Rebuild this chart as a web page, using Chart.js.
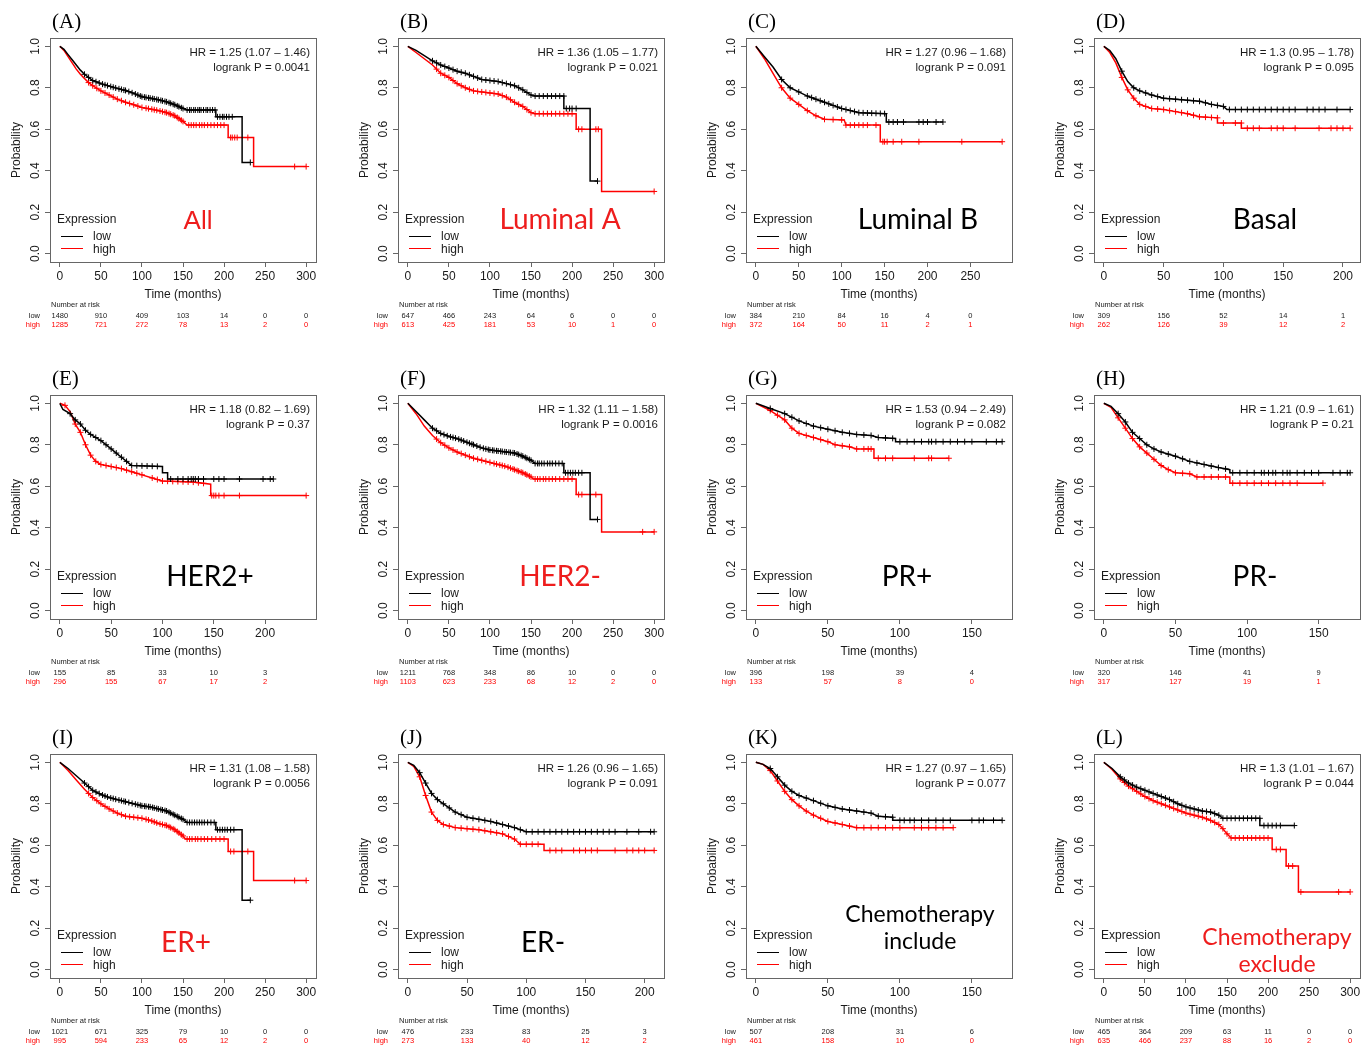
<!DOCTYPE html>
<html>
<head>
<meta charset="utf-8">
<script src="https://cdn.jsdelivr.net/npm/chart.js@4.4.0/dist/chart.umd.min.js"></script>
<style>
  body { margin: 0; background: #fff; width: 1371px; height: 1046px; overflow: hidden; position: relative; }
  canvas { position: absolute; }
</style>
</head>
<body>
<script>
const panelIds = ['A', 'B', 'C', 'D', 'E', 'F', 'G', 'H', 'I', 'J', 'K', 'L'];
const subgroups = [['All'], ['Luminal A'], ['Luminal B'], ['Basal'], ['HER2+'], ['HER2-'], ['PR+'], ['PR-'], ['ER+'], ['ER-'], ['Chemotherapy', 'include'], ['Chemotherapy', 'exclude']];
const subgroupRed = [true, true, false, false, false, true, false, false, true, false, false, true];
const hrLabels = ['HR = 1.25 (1.07 – 1.46)', 'HR = 1.36 (1.05 – 1.77)', 'HR = 1.27 (0.96 – 1.68)', 'HR = 1.3 (0.95 – 1.78)',
  'HR = 1.18 (0.82 – 1.69)', 'HR = 1.32 (1.11 – 1.58)', 'HR = 1.53 (0.94 – 2.49)', 'HR = 1.21 (0.9 – 1.61)',
  'HR = 1.31 (1.08 – 1.58)', 'HR = 1.26 (0.96 – 1.65)', 'HR = 1.27 (0.97 – 1.65)', 'HR = 1.3 (1.01 – 1.67)'];
const pLabels = ['logrank P = 0.0041', 'logrank P = 0.021', 'logrank P = 0.091', 'logrank P = 0.095',
  'logrank P = 0.37', 'logrank P = 0.0016', 'logrank P = 0.082', 'logrank P = 0.21',
  'logrank P = 0.0056', 'logrank P = 0.091', 'logrank P = 0.077', 'logrank P = 0.044'];
const timeMax = [300, 300, 287, 206, 240, 300, 171, 172, 300, 208, 171, 300];
const riskTimes = [0, 50, 100, 150, 200, 250, 300];
const riskLow = [[1480, 910, 409, 103, 14, 0, 0], [647, 466, 243, 64, 6, 0, 0], [384, 210, 84, 16, 4, 0], [309, 156, 52, 14, 1],
  [155, 85, 33, 10, 3], [1211, 768, 348, 86, 10, 0, 0], [396, 198, 39, 4], [320, 146, 41, 9],
  [1021, 671, 325, 79, 10, 0, 0], [476, 233, 83, 25, 3], [507, 208, 31, 6], [465, 364, 209, 63, 11, 0, 0]];
const riskHigh = [[1285, 721, 272, 78, 13, 2, 0], [613, 425, 181, 53, 10, 1, 0], [372, 164, 50, 11, 2, 1], [262, 126, 39, 12, 2],
  [296, 155, 67, 17, 2], [1103, 623, 233, 68, 12, 2, 0], [133, 57, 8, 0], [317, 127, 19, 1],
  [995, 594, 233, 65, 12, 2, 0], [273, 133, 40, 12, 2], [461, 158, 10, 0], [635, 466, 237, 88, 16, 2, 0]];

// survival curves [months, probability]; repeated month = vertical drop
const lowA = [[0,1],[5,0.985],[10,0.96],[15,0.935],[20,0.91],[25,0.885],[30,0.865],[35,0.85],[40,0.835],[50,0.82],[60,0.808],[70,0.797],[80,0.787],[90,0.773],[100,0.757],[110,0.75],[120,0.742],[130,0.732],[140,0.718],[150,0.7],[155,0.693],[190,0.693],[190,0.66],[222,0.66],[222,0.44],[232,0.44]];
const highA = [[0,1],[5,0.98],[10,0.95],[15,0.92],[20,0.89],[25,0.865],[30,0.845],[35,0.825],[40,0.81],[50,0.785],[60,0.765],[70,0.745],[80,0.73],[90,0.718],[100,0.705],[110,0.698],[120,0.69],[130,0.68],[140,0.665],[150,0.638],[155,0.62],[205,0.62],[205,0.56],[236,0.56],[236,0.42],[300,0.42]];
const lowB = [[0,1],[10,0.98],[20,0.955],[30,0.93],[40,0.91],[50,0.895],[60,0.88],[70,0.87],[80,0.855],[90,0.84],[100,0.835],[110,0.83],[120,0.82],[130,0.81],[140,0.79],[150,0.765],[155,0.76],[190,0.76],[190,0.7],[222,0.7],[222,0.35],[231,0.35]];
const highB = [[0,1],[10,0.97],[20,0.94],[30,0.91],[40,0.87],[50,0.85],[60,0.82],[70,0.8],[80,0.785],[90,0.78],[110,0.77],[120,0.755],[130,0.73],[140,0.71],[150,0.68],[155,0.675],[205,0.675],[205,0.6],[236,0.6],[236,0.3],[300,0.3]];
const lowC = [[0,1],[10,0.95],[20,0.9],[30,0.84],[40,0.8],[50,0.78],[60,0.76],[70,0.745],[80,0.73],[90,0.715],[100,0.7],[110,0.69],[120,0.68],[152,0.675],[152,0.635],[218,0.635]];
const highC = [[0,1],[10,0.94],[20,0.87],[30,0.8],[40,0.75],[50,0.72],[60,0.69],[70,0.665],[80,0.648],[103,0.645],[105,0.62],[145,0.62],[145,0.54],[287,0.54]];
const lowD = [[0,1],[5,0.98],[10,0.94],[15,0.88],[20,0.83],[25,0.8],[30,0.785],[40,0.765],[50,0.75],[60,0.745],[70,0.74],[80,0.735],[90,0.72],[100,0.71],[103,0.695],[206,0.695]];
const highD = [[0,1],[5,0.97],[10,0.92],[15,0.85],[20,0.79],[25,0.75],[30,0.72],[40,0.7],[50,0.695],[60,0.685],[70,0.675],[80,0.66],[95,0.655],[95,0.63],[115,0.63],[115,0.605],[206,0.605]];
const lowE = [[0,1],[3,0.97],[10,0.95],[15,0.92],[20,0.9],[25,0.87],[30,0.85],[40,0.82],[50,0.78],[55,0.76],[60,0.74],[65,0.72],[70,0.7],[100,0.695],[100,0.665],[105,0.665],[105,0.635],[208,0.635]];
const highE = [[0,1],[5,0.99],[10,0.96],[15,0.9],[20,0.86],[25,0.8],[30,0.75],[35,0.72],[40,0.705],[50,0.695],[60,0.685],[70,0.67],[80,0.655],[90,0.64],[100,0.625],[130,0.62],[147,0.61],[147,0.555],[240,0.555]];
const lowF = [[0,1],[10,0.96],[20,0.92],[30,0.88],[40,0.855],[50,0.84],[60,0.83],[70,0.815],[80,0.8],[90,0.785],[100,0.775],[110,0.77],[120,0.765],[130,0.76],[140,0.745],[150,0.725],[155,0.71],[190,0.71],[190,0.665],[222,0.665],[222,0.44],[231,0.44]];
const highF = [[0,1],[10,0.95],[20,0.89],[30,0.845],[40,0.81],[50,0.785],[60,0.765],[70,0.75],[80,0.735],[90,0.725],[100,0.715],[110,0.705],[120,0.695],[130,0.68],[140,0.665],[150,0.645],[153,0.635],[205,0.635],[205,0.56],[236,0.56],[236,0.38],[300,0.38]];
const lowG = [[0,1],[10,0.975],[20,0.95],[30,0.915],[40,0.89],[50,0.875],[60,0.86],[70,0.85],[80,0.845],[85,0.835],[97,0.83],[97,0.815],[171,0.815]];
const highG = [[0,1],[10,0.965],[20,0.92],[25,0.88],[30,0.855],[40,0.835],[50,0.815],[55,0.8],[65,0.79],[70,0.78],[82,0.78],[82,0.735],[134,0.735]];
const lowH = [[0,1],[5,0.985],[10,0.95],[15,0.91],[20,0.86],[25,0.83],[30,0.8],[35,0.78],[40,0.765],[50,0.745],[60,0.72],[70,0.705],[80,0.69],[88,0.68],[88,0.665],[172,0.665]];
const highH = [[0,1],[5,0.98],[10,0.93],[15,0.88],[20,0.83],[25,0.79],[30,0.76],[35,0.73],[40,0.7],[45,0.68],[50,0.665],[60,0.66],[65,0.645],[88,0.645],[88,0.615],[153,0.615]];
const lowI = [[0,1],[10,0.97],[20,0.935],[30,0.9],[40,0.865],[50,0.845],[60,0.83],[70,0.82],[80,0.81],[90,0.8],[100,0.79],[110,0.785],[120,0.775],[130,0.765],[140,0.745],[150,0.725],[155,0.71],[190,0.71],[190,0.675],[222,0.675],[222,0.335],[232,0.335]];
const highI = [[0,1],[10,0.96],[20,0.915],[30,0.87],[40,0.83],[50,0.8],[60,0.775],[70,0.755],[80,0.74],[90,0.735],[100,0.73],[110,0.72],[120,0.705],[130,0.695],[140,0.675],[150,0.645],[153,0.63],[205,0.63],[205,0.57],[236,0.57],[236,0.43],[300,0.43]];
const lowJ = [[0,1],[5,0.985],[10,0.95],[15,0.9],[20,0.85],[25,0.82],[30,0.8],[35,0.78],[40,0.76],[50,0.735],[60,0.725],[70,0.715],[80,0.7],[90,0.685],[100,0.665],[208,0.665]];
const highJ = [[0,1],[5,0.98],[10,0.93],[15,0.84],[20,0.76],[25,0.72],[30,0.7],[40,0.685],[50,0.68],[60,0.675],[70,0.665],[80,0.655],[90,0.63],[95,0.605],[115,0.605],[115,0.575],[208,0.575]];
const lowK = [[0,1],[5,0.99],[10,0.97],[15,0.93],[20,0.89],[25,0.86],[30,0.84],[40,0.815],[50,0.79],[60,0.775],[70,0.765],[80,0.755],[85,0.74],[95,0.735],[95,0.72],[171,0.72]];
const highK = [[0,1],[5,0.99],[10,0.96],[15,0.91],[20,0.86],[25,0.82],[30,0.79],[35,0.765],[40,0.745],[50,0.715],[60,0.7],[70,0.685],[137,0.685]];
const lowL = [[0,1],[10,0.97],[20,0.93],[30,0.9],[40,0.88],[50,0.865],[60,0.85],[70,0.835],[80,0.82],[90,0.8],[100,0.785],[110,0.775],[120,0.765],[130,0.76],[140,0.745],[145,0.73],[190,0.73],[190,0.695],[232,0.695]];
const highL = [[0,1],[10,0.965],[20,0.92],[30,0.885],[40,0.86],[50,0.835],[60,0.815],[70,0.8],[80,0.785],[90,0.77],[100,0.755],[110,0.745],[120,0.735],[130,0.72],[140,0.7],[145,0.68],[150,0.655],[155,0.635],[205,0.635],[205,0.58],[222,0.58],[222,0.5],[237,0.5],[237,0.375],[300,0.375]];

// censoring times (months)
const censLowA = [30,35,40,44,48,52,55,58,62,65,68,72,75,78,80,84,88,92,95,98,100,103,105,108,110,113,115,118,120,123,125,128,130,133,135,138,140,143,145,148,150,155,158,160,163,165,168,170,172,175,178,180,183,186,189,192,195,198,200,203,206,210,232];
const censHighA = [35,40,45,50,55,60,65,70,75,80,85,90,95,100,105,108,112,115,118,122,125,128,130,133,135,138,140,143,145,148,150,157,160,163,166,170,173,176,180,184,188,192,196,200,208,210,213,216,229,286,300];
const censLowB = [30,35,40,45,50,55,60,65,70,75,80,85,90,95,100,105,110,115,120,125,130,135,140,145,150,155,160,165,170,175,180,185,190,193,197,200,205,231];
const censHighB = [35,40,45,50,55,60,65,70,75,80,85,90,95,100,105,110,115,120,125,130,135,140,145,150,155,160,165,170,175,180,185,190,195,200,208,212,229,232,300];
const censLowC = [30,40,50,60,65,70,75,80,85,90,95,100,105,110,115,120,125,130,135,140,145,150,155,160,165,172,190,195,200,210,218];
const censHighC = [30,40,50,60,70,80,90,100,105,110,115,120,125,130,140,148,150,153,160,170,190,240,287];
const censLowD = [15,25,30,35,40,45,50,55,60,65,70,75,80,85,90,95,100,105,110,115,120,125,130,135,140,145,150,155,160,170,175,180,185,195,206];
const censHighD = [15,20,25,30,35,40,45,50,55,60,65,70,75,80,85,90,95,100,110,115,120,125,130,140,145,150,160,180,190,195,200,206];
const censLowE = [10,15,20,25,30,35,40,45,50,55,60,65,70,75,80,85,90,95,108,115,120,125,128,130,132,135,140,150,155,160,175,198,205,208];
const censHighE = [5,15,20,25,30,35,40,45,50,55,60,65,70,75,80,90,95,100,105,110,115,120,125,130,135,140,148,150,152,155,160,175,240];
const censLowF = [30,35,40,44,48,52,55,58,62,65,68,72,75,78,80,84,88,92,95,98,100,103,105,108,110,113,115,118,120,123,125,128,130,133,135,138,140,143,145,148,150,155,158,160,163,166,170,173,176,180,184,188,192,195,198,201,204,208,212,231];
const censHighF = [35,40,45,50,55,60,65,70,75,80,85,90,95,100,105,108,112,115,118,122,125,128,130,133,135,138,140,143,145,148,150,155,158,161,165,168,172,176,180,185,190,195,200,208,212,229,286,300];
const censLowG = [10,20,25,30,35,40,45,50,55,60,65,70,75,80,85,90,95,100,105,110,115,120,122,125,130,135,140,145,150,160,167,171];
const censHighG = [10,15,20,25,30,35,40,45,50,55,60,65,70,75,78,80,85,90,95,110,120,122,134];
const censLowH = [10,15,20,25,30,35,40,45,50,55,60,65,70,75,80,85,90,95,100,105,110,112,115,118,120,125,128,130,135,140,145,150,160,165,170,172];
const censHighH = [10,15,20,25,30,35,40,45,50,55,60,65,70,75,80,85,90,95,100,105,110,115,120,125,130,135,153];
const censLowI = [30,35,40,44,48,52,55,58,62,65,68,72,75,78,80,84,88,92,95,98,100,103,105,108,110,113,115,118,120,123,125,128,130,133,135,138,140,143,145,148,150,155,158,161,164,167,170,173,176,180,184,188,192,195,198,201,204,208,212,232];
const censHighI = [35,40,45,50,55,60,65,70,75,80,85,90,95,100,105,108,112,115,118,122,125,128,130,133,135,138,140,143,145,148,150,155,158,161,165,168,172,176,180,185,190,195,200,208,212,229,286,300];
const censLowJ = [10,15,20,25,30,35,40,45,50,55,60,65,70,75,80,85,90,95,100,105,110,115,120,125,130,135,140,145,150,155,160,165,170,175,185,195,205,208];
const censHighJ = [10,15,20,25,30,35,40,45,50,55,60,65,70,75,80,85,90,95,100,105,110,120,125,130,140,145,150,155,160,175,185,190,195,200,208];
const censLowK = [10,15,20,25,30,35,40,45,50,55,60,65,70,75,80,85,90,95,100,103,107,110,115,120,125,130,135,150,155,158,165,171];
const censHighK = [10,15,20,25,30,35,40,45,50,55,60,65,70,75,80,85,90,95,100,110,115,120,125,130,137];
const censLowL = [20,25,30,35,40,45,50,55,60,65,70,75,80,85,90,95,100,105,110,115,120,125,130,135,140,145,150,155,160,165,170,175,180,185,190,195,200,205,210,215,232];
const censHighL = [20,25,30,35,40,45,50,55,60,65,70,75,80,85,90,95,100,105,110,115,120,125,130,135,140,145,150,155,160,165,170,175,180,185,190,195,200,210,215,225,230,240,286,300];

const lowCurves = [lowA, lowB, lowC, lowD, lowE, lowF, lowG, lowH, lowI, lowJ, lowK, lowL];
const highCurves = [highA, highB, highC, highD, highE, highF, highG, highH, highI, highJ, highK, highL];
const lowCens = [censLowA, censLowB, censLowC, censLowD, censLowE, censLowF, censLowG, censLowH, censLowI, censLowJ, censLowK, censLowL];
const highCens = [censHighA, censHighB, censHighC, censHighD, censHighE, censHighF, censHighG, censHighH, censHighI, censHighJ, censHighK, censHighL];

const RED = '#ff0000';
const LABEL_RED = '#ee1d1d';
const AXIS = '#666';
const TXT = '#1a1a1a';
const rowTops = [0, 357, 716];
const colW = 348;

// where the traced curve sits at month t (used to put the censor crosses on the line)
function survAt(curve, t) {
  for (let k = 1; k < curve.length; k++) {
    const a = curve[k - 1], b = curve[k];
    if (t <= b[0]) {
      if (b[0] === a[0]) return b[1];
      return a[1] + (b[1] - a[1]) * (t - a[0]) / (b[0] - a[0]);
    }
  }
  return curve[curve.length - 1][1];
}

function extrasPlugin(i) {
  return {
    id: 'extras' + i,
    afterDraw(chart) {
      const ctx = chart.ctx;
      const ca = chart.chartArea;
      const xs = chart.scales.x;
      ctx.save();
      // plot frame
      ctx.strokeStyle = AXIS;
      ctx.lineWidth = 1;
      ctx.strokeRect(Math.round(ca.left) + 0.5, Math.round(ca.top) + 0.5, Math.round(ca.right - ca.left), Math.round(ca.bottom - ca.top));
      // panel letter
      ctx.fillStyle = '#000';
      ctx.textAlign = 'left';
      ctx.font = '21px "Liberation Serif"';
      ctx.fillText('(' + panelIds[i] + ')', 52, 28);
      // HR and p value
      ctx.fillStyle = TXT;
      ctx.font = '11.5px "Liberation Sans"';
      ctx.textAlign = 'right';
      ctx.fillText(hrLabels[i], 310, 56);
      ctx.fillText(pLabels[i], 310, 71);
      // legend
      ctx.textAlign = 'left';
      ctx.font = '12px "Liberation Sans"';
      ctx.fillText('Expression', 57, 223);
      ctx.fillText('low', 93, 240);
      ctx.fillText('high', 93, 253);
      ctx.lineWidth = 1;
      ctx.strokeStyle = '#000';
      ctx.beginPath(); ctx.moveTo(61, 236.5); ctx.lineTo(83, 236.5); ctx.stroke();
      ctx.strokeStyle = RED;
      ctx.beginPath(); ctx.moveTo(61, 248.5); ctx.lineTo(83, 248.5); ctx.stroke();
      // subgroup label
      const lines = subgroups[i];
      ctx.fillStyle = subgroupRed[i] ? LABEL_RED : '#000';
      ctx.textAlign = 'center';
      if (i === 0) {
        ctx.font = '26px "Liberation Sans"';
        ctx.fillText(lines[0], 198, 229);
      } else if (lines.length === 2) {
        ctx.font = '23px Lato';
        const y0 = i === 10 ? 206 : 229;
        const cx = i === 10 ? 224 : 233;
        ctx.fillText(lines[0], cx, y0);
        ctx.fillText(lines[1], cx, y0 + 27);
      } else {
        const centers = { 1: 212, 2: 222, 3: 221, 4: 210, 5: 212, 6: 211, 7: 211, 8: 186, 9: 195 };
        ctx.font = '28px Lato';
        ctx.fillText(lines[0], centers[i], i === 8 || i === 9 ? 236 : 229);
      }
      // number at risk table
      ctx.font = '7.5px "Liberation Sans"';
      ctx.fillStyle = TXT;
      ctx.textAlign = 'left';
      ctx.fillText('Number at risk', 51, 307);
      ctx.textAlign = 'right';
      ctx.fillText('low', 40, 318);
      ctx.fillStyle = RED;
      ctx.fillText('high', 40, 327);
      ctx.textAlign = 'center';
      riskLow[i].forEach(function (v, k) {
        const px = xs.getPixelForValue(riskTimes[k]);
        ctx.fillStyle = TXT;
        ctx.fillText(String(v), px, 318);
        ctx.fillStyle = RED;
        ctx.fillText(String(riskHigh[i][k]), px, 327);
      });
      ctx.restore();
    }
  };
}

panelIds.forEach(function (id, i) {
  const cv = document.createElement('canvas');
  cv.width = colW;
  cv.height = 357;
  cv.style.left = (i % 4) * colW + 'px';
  cv.style.top = rowTops[Math.floor(i / 4)] + 'px';
  document.body.appendChild(cv);

  const low = lowCurves[i];
  const high = highCurves[i];
  const tm = timeMax[i];
  const tickFont = { family: 'Liberation Sans', size: 12 };

  new Chart(cv.getContext('2d'), {
    type: 'line',
    data: {
      datasets: [
        { data: low.map(p => ({ x: p[0], y: p[1] })), borderColor: '#000', borderWidth: 1.5, pointRadius: 0, fill: false, tension: 0 },
        { data: lowCens[i].map(t => ({ x: t, y: survAt(low, t) })), showLine: false, pointStyle: 'cross', pointRadius: 3, borderColor: '#000', borderWidth: 1 },
        { data: high.map(p => ({ x: p[0], y: p[1] })), borderColor: RED, borderWidth: 1.5, pointRadius: 0, fill: false, tension: 0 },
        { data: highCens[i].map(t => ({ x: t, y: survAt(high, t) })), showLine: false, pointStyle: 'cross', pointRadius: 3, borderColor: RED, borderWidth: 1 }
      ]
    },
    options: {
      responsive: false,
      animation: false,
      events: [],
      layout: { padding: { left: 0, top: 38, right: 32, bottom: 55 } },
      plugins: { legend: { display: false }, tooltip: { enabled: false } },
      scales: {
        x: {
          type: 'linear',
          min: -0.04 * tm,
          max: 1.04 * tm,
          afterFit: function (s) { s.height = 40; },
          grid: { drawOnChartArea: false, drawTicks: true, tickLength: 5, color: AXIS },
          border: { display: true, color: AXIS },
          ticks: { stepSize: 50, includeBounds: false, maxRotation: 0, autoSkip: false, padding: 2, color: TXT, font: tickFont },
          title: { display: true, text: 'Time (months)', color: TXT, font: tickFont, padding: { top: 0, bottom: 0 } }
        },
        y: {
          min: -0.04,
          max: 1.04,
          afterFit: function (s) { s.width = 50; },
          grid: { drawOnChartArea: false, drawTicks: true, tickLength: 5, color: AXIS },
          border: { display: true, color: AXIS },
          ticks: { stepSize: 0.2, includeBounds: false, minRotation: 90, maxRotation: 90, crossAlign: 'center', padding: 1, color: TXT, font: tickFont,
            callback: function (v) { return v.toFixed(1); } },
          title: { display: true, text: 'Probability', color: TXT, font: tickFont, padding: { top: 9, bottom: 0 } }
        }
      }
    },
    plugins: [extrasPlugin(i)]
  });
});
</script>
</body>
</html>
